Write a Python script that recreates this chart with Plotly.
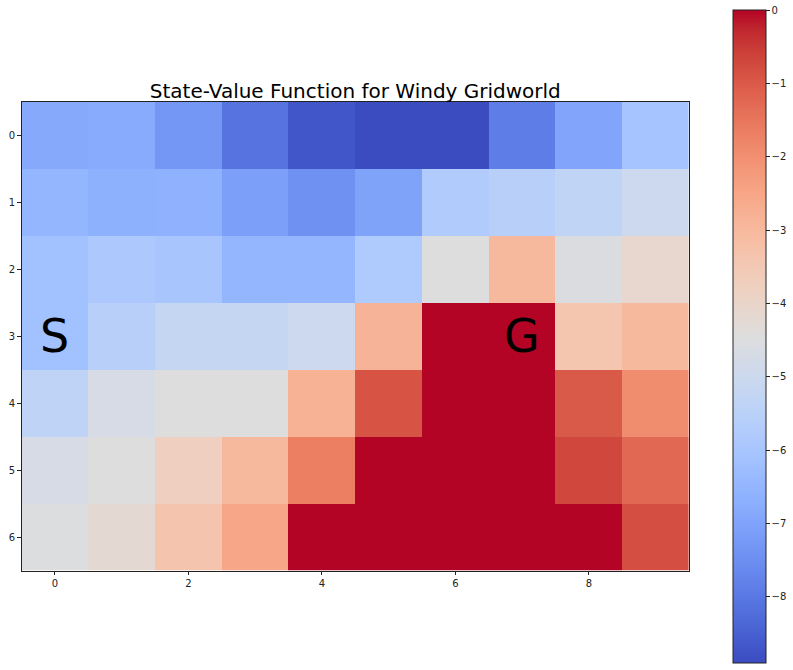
import plotly.graph_objects as go

cols = list(range(10))
rows = list(range(7))

row0 = [-6.85, -6.8, -7.3, -8.1, -8.7, -8.9, -8.9, -7.9, -6.95, -6.05]
row1 = [-6.5, -6.65, -6.6, -7.1, -7.45, -7.0, -5.75, -5.55, -5.35, -5.0]
row2 = [-6.15, -5.9, -6.0, -6.5, -6.5, -5.8, -4.45, -3.0, -4.55, -4.1]
row3 = [-6.15, -5.55, -5.2, -5.2, -5.0, -2.85, 0.0, 0.0, -3.4, -3.0]
row4 = [-5.4, -4.7, -4.45, -4.45, -2.8, -0.9, 0.0, 0.0, -1.0, -1.95]
row5 = [-4.7, -4.45, -3.75, -3.0, -1.65, 0.0, 0.0, 0.0, -0.7, -1.25]
row6 = [-4.5, -4.2, -3.35, -2.5, 0.0, 0.0, 0.0, 0.0, 0.0, -0.8]
values = [row0, row1, row2, row3, row4, row5, row6]

start_label = "S"
start_pos = (0, 3)
goal_label = "G"
goal_pos = (7, 3)

cbar_ticks = [0, -1, -2, -3, -4, -5, -6, -7, -8]
cbar_ticktext = ["0", "\u22121", "\u22122", "\u22123", "\u22124", "\u22125", "\u22126", "\u22127", "\u22128"]
x_ticks = [0, 2, 4, 6, 8]
y_ticks = [0, 1, 2, 3, 4, 5, 6]
title = "State-Value Function for Windy Gridworld"

coolwarm_pts = [
    (59, 76, 192), (68, 90, 204), (77, 104, 215), (87, 117, 225), (98, 130, 234),
    (108, 142, 241), (119, 154, 247), (130, 165, 251), (141, 176, 254), (152, 185, 255),
    (163, 194, 255), (174, 201, 253), (184, 208, 249), (194, 213, 244), (204, 217, 238),
    (213, 219, 230), (221, 221, 221), (229, 216, 209), (236, 211, 197), (241, 204, 185),
    (245, 196, 173), (247, 187, 160), (247, 177, 148), (247, 166, 135), (244, 154, 123),
    (241, 141, 111), (236, 127, 99), (229, 112, 88), (222, 96, 77), (213, 80, 66),
    (203, 62, 56), (192, 40, 47), (180, 4, 38),
]
n = len(coolwarm_pts) - 1
colorscale = [[i / n, "rgb(%d,%d,%d)" % c] for i, c in enumerate(coolwarm_pts)]

W, H = 793, 670
ax_l, ax_r, ax_t, ax_b = 21.6, 689.0, 101.5, 570.5
cb_l, cb_t, cb_b = 733.0, 10.0, 663.0
title_y = 91

fig = go.Figure()
fig.add_trace(go.Heatmap(
    z=values, x=cols, y=rows, colorscale=colorscale, zmin=-8.9, zmax=0.0,
    xgap=0, ygap=0,
    colorbar=dict(
        x=cb_l / W, xanchor="left", xpad=0,
        y=1 - (cb_t + cb_b) / 2 / H, yanchor="middle", ypad=0,
        len=cb_b - cb_t, lenmode="pixels", thickness=33, thicknessmode="pixels",
        outlinewidth=1, outlinecolor="#222222",
        tickmode="array", tickvals=cbar_ticks, ticktext=cbar_ticktext,
        ticks="outside", ticklen=3.5, tickwidth=1, tickcolor="#222222",
        tickfont=dict(family="DejaVu Sans", size=10, color="#222222"),
    ),
))

fig.add_annotation(x=start_pos[0], y=start_pos[1], text=start_label, showarrow=False,
                   font=dict(family="DejaVu Sans", size=46, color="black"),
                   xref="x", yref="y")
fig.add_annotation(x=goal_pos[0], y=goal_pos[1], text=goal_label, showarrow=False,
                   font=dict(family="DejaVu Sans", size=46, color="black"),
                   xref="x", yref="y")

fig.update_layout(
    width=W, height=H,
    margin=dict(l=0, r=0, t=0, b=0),
    paper_bgcolor="white", plot_bgcolor="white",
    title=dict(text=title, x=(ax_l + ax_r) / 2 / W, xanchor="center",
               y=1 - title_y / H, yanchor="middle",
               font=dict(family="DejaVu Sans", size=20, color="black")),
    xaxis=dict(domain=[ax_l / W, ax_r / W], range=[-0.5, 9.5],
               tickmode="array", tickvals=x_ticks, ticks="outside", ticklen=3.5,
               tickcolor="#222222", showline=True, linecolor="#222222", mirror=True,
               showgrid=False, zeroline=False,
               tickfont=dict(family="DejaVu Sans", size=10, color="#222222")),
    yaxis=dict(domain=[1 - ax_b / H, 1 - ax_t / H], range=[6.5, -0.5],
               tickmode="array", tickvals=y_ticks, ticks="outside", ticklen=3.5,
               tickcolor="#222222", showline=True, linecolor="#222222", mirror=True,
               showgrid=False, zeroline=False,
               tickfont=dict(family="DejaVu Sans", size=10, color="#222222")),
)

fig.write_html(
    "out.html",
    config={"displayModeBar": False},
    post_script="document.body.style.margin='0';document.body.style.overflow='hidden';",
)
